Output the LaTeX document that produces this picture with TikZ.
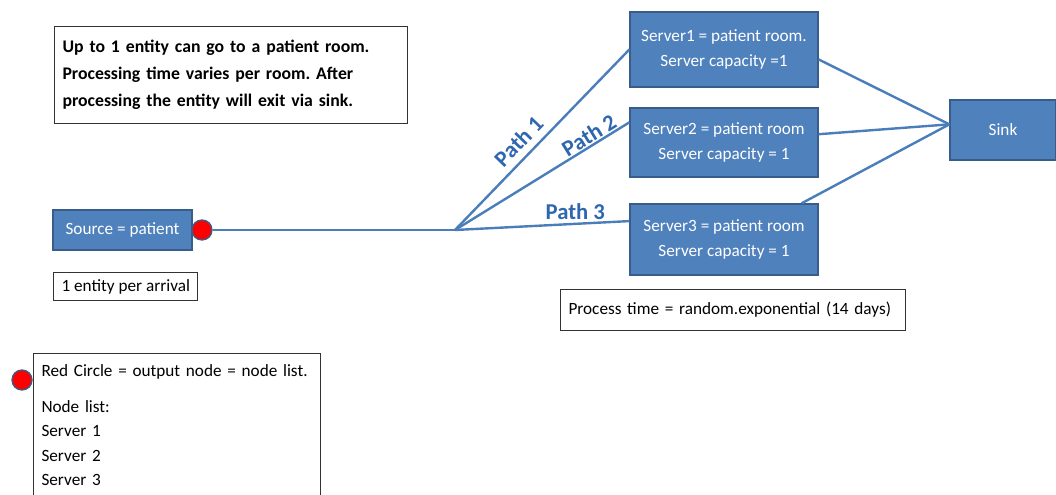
\documentclass[tikz,border=0pt]{standalone}
\usepackage{fontspec}
\setmainfont{Carlito}
\usetikzlibrary{calc}
\definecolor{boxblue}{HTML}{4F81BD}
\definecolor{boxedge}{HTML}{385D8A}
\definecolor{linkblue}{HTML}{4A7EBB}
\definecolor{pathblue}{HTML}{2F66B0}

\begin{document}
\begin{tikzpicture}[x=0.75pt, y=-0.75pt,
    blueBox/.style={draw=boxedge, fill=boxblue, line width=1pt, text=white,
        align=center, inner sep=0pt, font=\fontsize{12.9}{18.75}\selectfont},
    noteBox/.style={draw=black!80, line width=0.8pt, align=left,
        inner xsep=6pt, font=\fontsize{12.9}{18.4}\selectfont},
    linkLine/.style={draw=linkblue, line width=1.8pt},
    pathLabel/.style={text=pathblue, font=\bfseries\fontsize{17}{18}\selectfont, inner sep=1pt},
    outDot/.style={circle, draw=boxedge, line width=1pt, fill=red, minimum size=15pt, inner sep=0pt}
]
\useasboundingbox (0,0) rectangle (1056,495);

% --- NOTE ---
\node[noteBox, anchor=north west, text width=252.75pt, minimum height=72.75pt,
      font=\bfseries\fontsize{13.3}{20.25}\selectfont] (note) at (54,26)
    {Up to 1 entity can go to a patient room.\\
     Processing time varies per room.\ After\\
     processing the entity will exit via sink.};

% --- SOURCE ---
\node[blueBox, minimum width=104.25pt, minimum height=30pt] (source) at (122.5,230)
    {Source = patient};
\node[outDot] (srcDot) at (202,230) {};
\node[noteBox, anchor=north west, inner ysep=0pt, minimum height=21pt] (arrival) at (53,272)
    {1 entity per arrival};

% --- SERVERS ---
\node[blueBox, minimum width=141pt, minimum height=56.25pt] (s1) at (724,49.5)
    {Server1 = patient room.\\Server capacity =1};
\node[blueBox, minimum width=141pt, minimum height=51.75pt] (s2) at (724,142.5)
    {Server2 = patient room\\Server capacity = 1};
\node[blueBox, minimum width=141pt, minimum height=53.25pt] (s3) at (724,239.5)
    {Server3 = patient room\\Server capacity = 1};
\node[noteBox, anchor=north west, text width=246.75pt, minimum height=30.75pt] (ptime) at (560,289)
    {Process time = random.exponential (14 days)};

% --- SINK ---
\node[blueBox, minimum width=79.5pt, minimum height=45pt] (sink) at (1003,130) {Sink};

% --- PATHS ---
\coordinate (fork) at (455,230);
\draw[linkLine] (srcDot) -- (fork);
\draw[linkLine] (fork) -- node[pathLabel, pos=0.43, above=4pt, sloped] {Path 1} (s1.west);
\draw[linkLine] (fork) -- node[pathLabel, pos=0.80, above=0pt, sloped] {Path 2} (s2.168);
\draw[linkLine] (fork) -- node[pathLabel, pos=0.69, above=1pt] {Path 3} (s3.169);
\draw[linkLine] (s1.-6) -- (sink.174);
\draw[linkLine] (s2.5) -- (sink.174);
\draw[linkLine] (s3.25) -- (sink.174);

% --- LEGEND ---
\node[outDot] (legDot) at (22,380) {};
\node[noteBox, anchor=north west, text width=203pt, inner ysep=8pt] (legend) at (33,353)
    {Red Circle = output node = node list.\\[8.5pt]
     Node list:\\ Server 1\\ Server 2\\ Server 3\\ ~};

\end{tikzpicture}
\end{document}
